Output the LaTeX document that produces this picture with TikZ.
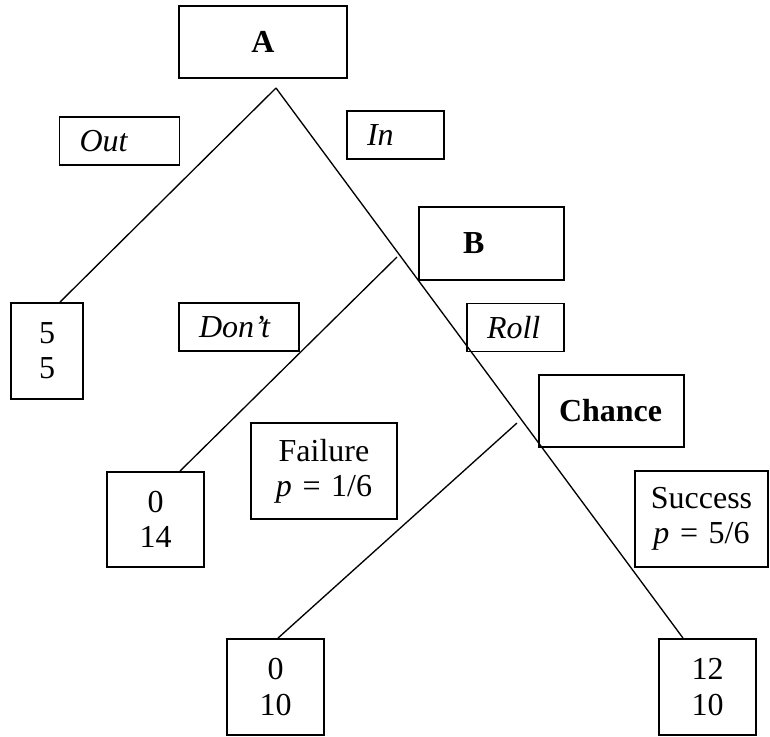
\documentclass[tikz,border=0pt]{standalone}
\usepackage{fontspec}
\setmainfont{Liberation Serif}
\usepackage{tikz}
\usetikzlibrary{positioning}

\begin{document}
\begin{tikzpicture}[x=0.75pt,y=-0.75pt,
    every node/.style={draw,line width=1.4pt,font=\fontsize{24}{26.5}\selectfont},
    lbl/.style={align=left,inner xsep=15pt,minimum height=36pt},
    prob/.style={align=center,inner xsep=11pt,minimum height=72pt},
    pay/.style={align=center,minimum width=72.75pt,minimum height=72pt}]
    \useasboundingbox (0,0) rectangle (770,736);
    \node[minimum width=126pt,minimum height=54pt] (A) at (263,42) {\textbf{A}};
    \node[lbl,text width=60pt] (Out) at (119.5,141) {\textit{Out}};
    \node[lbl,text width=42.75pt] (In) at (395.5,135) {\textit{In}};
    \node[lbl,text width=78.75pt,minimum height=54.75pt] (B) at (491.5,243.5) {\hspace*{18pt}\textbf{B}};
    \node[pay,minimum width=54pt] (P55) at (47,351) {5\\5};
    \node[lbl,text width=60pt] (Dont) at (239,327) {\textit{Don’t}};
    \node[lbl,text width=42.75pt] (Roll) at (515.5,327.5) {\textit{Roll}};
    \node[lbl,text width=78.75pt,minimum height=54pt] (C) at (611.5,411) {\textbf{Chance}};
    \node[prob,text width=87.5pt] (Fail) at (324,471) {Failure\\\textit{p} = 1/6};
    \node[pay,minimum height=71.25pt] (P014) at (155.5,519.5) {0\\14};
    \node[prob,text width=77.75pt] (Succ) at (701.5,519) {Success\\\textit{p} = 5/6};
    \node[pay] (P010) at (275.5,687) {0\\10};
    \node[pay] (P1210) at (707.5,687) {12\\10};
    \coordinate (a) at (276,88);
    \coordinate (b) at (397,257);
    \coordinate (c) at (517,423);
    \draw[line width=1pt] (a) -- (60,0 |- P55.north);
    \draw[line width=1pt] (a) -- (683,0 |- P1210.north);
    \draw[line width=1pt] (b) -- (180,0 |- P014.north);
    \draw[line width=1pt] (c) -- (278,0 |- P010.north);
  \end{tikzpicture}
\end{document}
